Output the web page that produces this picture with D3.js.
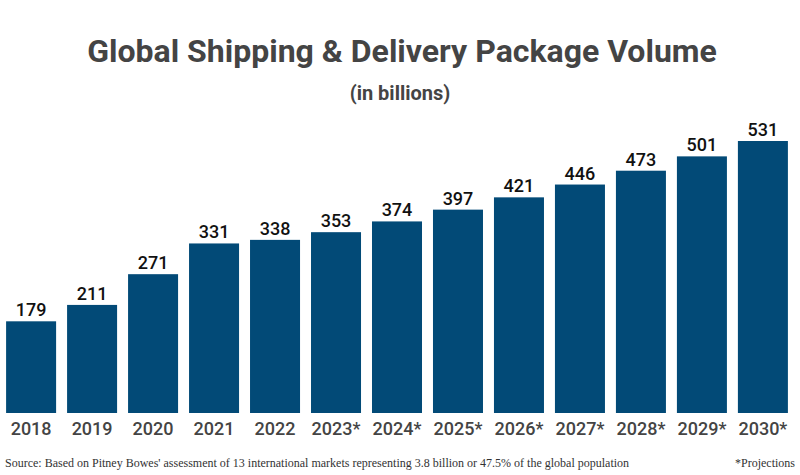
<!DOCTYPE html>
<html lang="en">
<head>
    <meta charset="UTF-8">
    <title>Global Shipping & Delivery Package Volume</title>
    <style>
        body { margin: 0; background: #fff; }
        svg { display: block; }
    </style>
</head>
<body>
    <script src="https://cdnjs.cloudflare.com/ajax/libs/d3/7.8.2/d3.min.js"></script>
    <script>

        // years (projections have a star)
        const years = ["2018", "2019", "2020", "2021", "2022", "2023*", "2024*",
                       "2025*", "2026*", "2027*", "2028*", "2029*", "2030*"];
        // package volume, billions
        const volumes = [179, 211, 271, 331, 338, 353, 374, 397, 421, 446, 473, 501, 531];

        const w = 800;
        const h = 475;

        const svg = d3.select("body")
            .append("svg")
            .attr("width", w)
            .attr("height", h)

        const x = d3.scaleBand()
            .domain(years)
            .range([0, 794])
            .paddingInner(0.18)
            .paddingOuter(0.1)

        const y = d3.scaleLinear()
            .domain([0, 531])
            .range([413, 141])

        // titles
        svg.append("text")
            .attr("x", 402)
            .attr("y", 62)
            .attr("text-anchor", "middle")
            .style("font-family", "Roboto")
            .style("font-weight", "bold")
            .style("font-size", "32px")
            .style("fill", "#444")
            .text("Global Shipping & Delivery Package Volume")

        svg.append("text")
            .attr("x", 400)
            .attr("y", 100)
            .attr("text-anchor", "middle")
            .style("font-family", "Roboto")
            .style("font-weight", "bold")
            .style("font-size", "20px")
            .style("fill", "#444")
            .text("(in billions)")

        const data = years.map((yr, i) => ({year: yr, v: volumes[i]}));

        svg.selectAll("rect.bar")
            .data(data)
            .enter()
            .append("rect")
                .attr("class", "bar")
                .attr("x", d => x(d.year))
                .attr("y", d => y(d.v))
                .attr("width", x.bandwidth())
                .attr("height", d => y(0) - y(d.v))
                .style("fill", "#024a77")

        // value labels
        svg.selectAll("text.val")
            .data(data)
            .enter()
            .append("text")
                .attr("class", "val")
                .attr("x", d => x(d.year) + x.bandwidth() / 2)
                .attr("y", d => y(d.v) - 5)
                .attr("text-anchor", "middle")
                .style("font-family", "Roboto")
                .style("font-weight", 500)
                .style("font-size", "18px")
                .style("fill", "#111")
                .text(d => d.v)

        // x axis labels
        const xAxis = d3.axisBottom(x).tickSize(0).tickPadding(9);
        const gx = svg.append("g")
            .attr("transform", `translate(0,${y(0)})`)
            .call(xAxis)
        gx.select(".domain").remove();
        gx.selectAll("text")
            .style("font-family", "Roboto")
            .style("font-weight", 500)
            .style("font-size", "18px")
            .style("fill", "#444")

        // footer
        svg.append("text")
            .attr("x", 5)
            .attr("y", 467)
            .style("font-family", "Liberation Serif")
            .style("font-size", "12px")
            .style("fill", "#333")
            .text("Source: Based on Pitney Bowes' assessment of 13 international markets representing 3.8 billion or 47.5% of the global population")

        svg.append("text")
            .attr("x", 795)
            .attr("y", 467)
            .attr("text-anchor", "end")
            .style("font-family", "Liberation Serif")
            .style("font-size", "12px")
            .style("fill", "#333")
            .text("*Projections")

    </script>
</body>
</html>
